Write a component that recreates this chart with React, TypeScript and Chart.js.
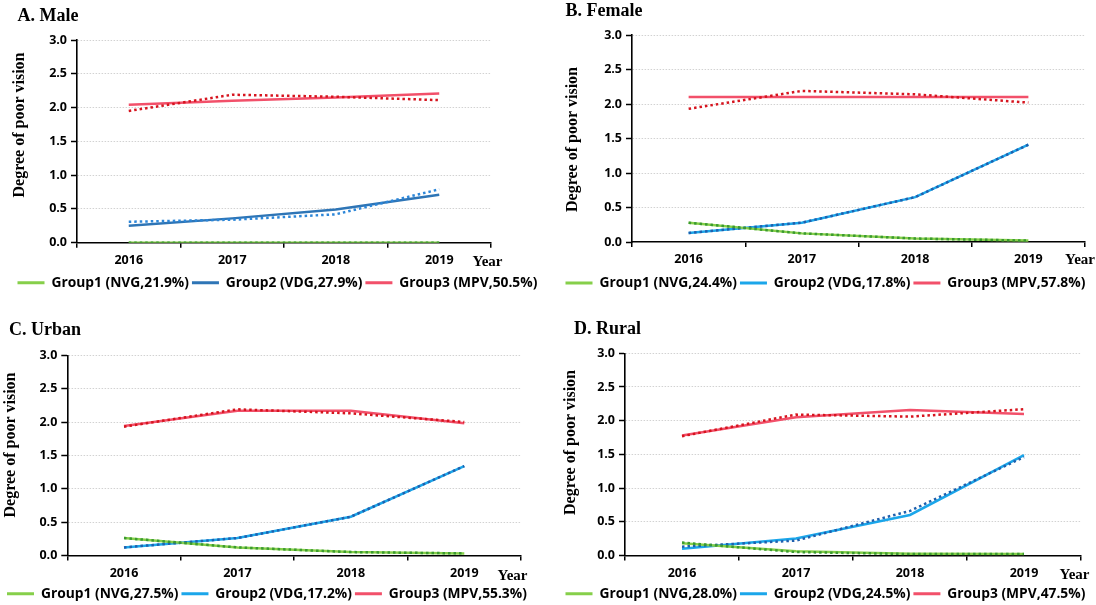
import React, { useEffect, useRef } from 'react';
import { Chart, registerables } from 'chart.js';

Chart.register(...registerables);

// ---------- data ----------
const years = ['2016', '2017', '2018', '2019'];
const yMin = 0;
const yMax = 3;
const yStep = 0.5;
const yAxisTitle = 'Degree of poor vision';
const xAxisTitle = 'Year';

const maleTitle = 'A. Male';
const maleLegend = ['Group1 (NVG,21.9%)', 'Group2 (VDG,27.9%)', 'Group3 (MPV,50.5%)'];
const maleG1Est = [0, 0, 0, 0];
const maleG1Obs = [0, 0, 0, 0];
const maleG2Est = [0.25, 0.36, 0.49, 0.71];
const maleG2Obs = [0.31, 0.34, 0.42, 0.79];
const maleG3Est = [2.04, 2.1, 2.15, 2.21];
const maleG3Obs = [1.95, 2.19, 2.16, 2.11];

const femaleTitle = 'B. Female';
const femaleLegend = ['Group1 (NVG,24.4%)', 'Group2 (VDG,17.8%)', 'Group3 (MPV,57.8%)'];
const femaleG1Est = [0.28, 0.125, 0.05, 0.02];
const femaleG1Obs = [0.28, 0.125, 0.05, 0.02];
const femaleG2Est = [0.13, 0.28, 0.65, 1.41];
const femaleG2Obs = [0.13, 0.28, 0.65, 1.41];
const femaleG3Est = [2.1, 2.1, 2.1, 2.1];
const femaleG3Obs = [1.93, 2.19, 2.14, 2.02];

const urbanTitle = 'C. Urban';
const urbanLegend = ['Group1 (NVG,27.5%)', 'Group2 (VDG,17.2%)', 'Group3 (MPV,55.3%)'];
const urbanG1Est = [0.26, 0.12, 0.05, 0.03];
const urbanG1Obs = [0.26, 0.12, 0.05, 0.03];
const urbanG2Est = [0.12, 0.26, 0.58, 1.34];
const urbanG2Obs = [0.12, 0.26, 0.58, 1.34];
const urbanG3Est = [1.94, 2.17, 2.17, 1.98];
const urbanG3Obs = [1.93, 2.19, 2.13, 2.0];

const ruralTitle = 'D. Rural';
const ruralLegend = ['Group1 (NVG,28.0%)', 'Group2 (VDG,24.5%)', 'Group3 (MPV,47.5%)'];
const ruralG1Est = [0.18, 0.06, 0.025, 0.02];
const ruralG1Obs = [0.19, 0.05, 0.02, 0.02];
const ruralG2Est = [0.1, 0.25, 0.6, 1.49];
const ruralG2Obs = [0.13, 0.22, 0.66, 1.46];
const ruralG3Est = [1.78, 2.05, 2.16, 2.1];
const ruralG3Obs = [1.77, 2.09, 2.06, 2.17];

// ---------- styles ----------
const GREEN = '#86CF4A';
const GREEN_DOT = '#3A9A30';
const BLUE_A = '#2E75B6';
const BLUE_A_DOT = '#2C86D8';
const BLUE = '#1BA6EA';
const BLUE_DOT = '#1F60AE';
const RED = '#F2506A';
const RED_DOT = '#D6141E';

const SERIF = '"Liberation Serif", "Times New Roman", serif';
const SANS = '"Open Sans", "Noto Sans", sans-serif';

type PanelSpec = {
  title: string;
  legend: string[];
  est: number[][];
  obs: number[][];
  blue: string;
  blueDot: string;
  box: { left: number; top: number; w: number; h: number };
  lay: {
    padL: number; padT: number; padB: number; yW: number; rW: number; xH: number; tickPad: number;
    titleX: number; titleY: number; yTitleX: number; yTitleY: number; yearX: number; yearY: number;
  };
};

const panels: PanelSpec[] = [
  {
    title: maleTitle, legend: maleLegend,
    est: [maleG1Est, maleG2Est, maleG3Est], obs: [maleG1Obs, maleG2Obs, maleG3Obs],
    blue: BLUE_A, blueDot: BLUE_A_DOT,
    box: { left: 0, top: 0, w: 548, h: 300 },
    lay: { padL: 14.5, padT: 40, padB: 0.25, yW: 62.5, rW: 57, xH: 30.25, tickPad: 5.5,
      titleX: 17.5, titleY: 16, yTitleX: 20, yTitleY: 125, yearX: 487.5, yearY: 262 },
  },
  {
    title: femaleTitle, legend: femaleLegend,
    est: [femaleG1Est, femaleG2Est, femaleG3Est], obs: [femaleG1Obs, femaleG2Obs, femaleG3Obs],
    blue: BLUE, blueDot: BLUE_DOT,
    box: { left: 548, top: 0, w: 548, h: 300 },
    lay: { padL: 14.5, padT: 35, padB: 0, yW: 69.5, rW: 11, xH: 31.2, tickPad: 4.5,
      titleX: 17.5, titleY: 11.5, yTitleX: 24.5, yTitleY: 139.5, yearX: 532, yearY: 260 },
  },
  {
    title: urbanTitle, legend: urbanLegend,
    est: [urbanG1Est, urbanG2Est, urbanG3Est], obs: [urbanG1Obs, urbanG2Obs, urbanG3Obs],
    blue: BLUE, blueDot: BLUE_DOT,
    box: { left: 0, top: 300, w: 548, h: 312 },
    lay: { padL: 4, padT: 55.3, padB: 1.25, yW: 63.3, rW: 27, xH: 28.55, tickPad: 5.1,
      titleX: 9, titleY: 30, yTitleX: 10.5, yTitleY: 145, yearX: 512.5, yearY: 276 },
  },
  {
    title: ruralTitle, legend: ruralLegend,
    est: [ruralG1Est, ruralG2Est, ruralG3Est], obs: [ruralG1Obs, ruralG2Obs, ruralG3Obs],
    blue: BLUE, blueDot: BLUE_DOT,
    box: { left: 548, top: 300, w: 548, h: 312 },
    lay: { padL: 14.5, padT: 53.3, padB: 1.25, yW: 62.5, rW: 15, xH: 28.55, tickPad: 5.1,
      titleX: 26, titleY: 29.3, yTitleX: 23, yTitleY: 142.5, yearX: 526.5, yearY: 275 },
  },
];

function Panel({ spec }: { spec: PanelSpec }) {
  const ref = useRef<HTMLCanvasElement | null>(null);

  useEffect(() => {
    const canvas = ref.current;
    if (!canvas) return;
    const L = spec.lay;
    const solidColors = [GREEN, spec.blue, RED];
    const dotColors = [GREEN_DOT, spec.blueDot, RED_DOT];

    const dotted = spec.obs.map((d, i) => ({
      label: spec.legend[i] + ' observed',
      data: d,
      borderColor: dotColors[i],
      backgroundColor: dotColors[i],
      borderWidth: 2.5,
      borderDash: [2.5, 3],
      pointRadius: 0,
      tension: 0,
      fill: false,
    }));
    const solid = spec.est.map((d, i) => ({
      label: spec.legend[i],
      data: d,
      borderColor: solidColors[i],
      backgroundColor: solidColors[i],
      borderWidth: 2.5,
      pointRadius: 0,
      tension: 0,
      fill: false,
    }));

    const textPlugin = {
      id: 'panelText',
      afterDraw(chart: any) {
        const ctx = chart.ctx as CanvasRenderingContext2D;
        ctx.save();
        ctx.fillStyle = '#000';
        ctx.textBaseline = 'middle';
        ctx.textAlign = 'left';
        ctx.font = `bold 18px ${SERIF}`;
        ctx.fillText(spec.title, L.titleX, L.titleY);
        ctx.textAlign = 'center';
        ctx.font = `bold 15px ${SERIF}`;
        ctx.fillText(xAxisTitle, L.yearX, L.yearY);
        ctx.translate(L.yTitleX, L.yTitleY);
        ctx.rotate(-Math.PI / 2);
        ctx.font = `bold 16px ${SERIF}`;
        ctx.fillText(yAxisTitle, 0, 0);
        ctx.restore();
      },
    };

    const chart = new Chart(canvas, {
      type: 'line',
      data: { labels: years, datasets: [...dotted, ...solid] as any },
      options: {
        animation: false,
        responsive: false,
        devicePixelRatio: 1,
        layout: { padding: { left: L.padL, right: 0, top: L.padT, bottom: L.padB } },
        scales: {
          x: {
            type: 'category',
            offset: true,
            grid: {
              display: true,
              offset: true,
              drawOnChartArea: false,
              drawTicks: true,
              tickLength: 5,
              color: '#000',
              lineWidth: 1.5,
            },
            border: { display: true, color: '#000', width: 1.6 },
            ticks: {
              autoSkip: false,
              maxRotation: 0,
              padding: L.tickPad,
              color: '#000',
              font: { family: SANS, size: 12.5, weight: 'bold' },
            },
            afterFit: (s: any) => { s.height = L.xH; },
          },
          y: {
            type: 'linear',
            position: 'left',
            min: yMin,
            max: yMax,
            ticks: {
              stepSize: yStep,
              padding: 4,
              color: '#000',
              font: { family: SANS, size: 12.5, weight: 'bold' },
              callback: (v: any) => Number(v).toFixed(1),
            },
            grid: {
              display: true,
              drawTicks: true,
              tickLength: 6,
              tickColor: '#000',
              tickWidth: 1.5,
              lineWidth: 1,
              color: (c: any) => (c.tick && c.tick.value === 0 ? 'rgba(0,0,0,0)' : '#d2d2d2'),
            },
            border: { display: true, color: '#000', width: 1.6, dash: [1.5, 1.5] },
            afterFit: (s: any) => { s.width = L.yW; },
          },
          yRight: {
            type: 'linear',
            position: 'right',
            display: true,
            grid: { display: false },
            border: { display: false },
            ticks: { display: false },
            afterFit: (s: any) => { s.width = L.rW; },
          },
        },
        plugins: {
          title: { display: false },
          tooltip: { enabled: false },
          legend: {
            display: true,
            position: 'bottom',
            align: 'start',
            labels: {
              boxWidth: 27,
              boxHeight: 3,
              padding: 3,
              color: '#000',
              font: { family: SANS, size: 13.8, weight: 'bold' },
              generateLabels: () =>
                spec.legend.map((t, i) => ({
                  text: t,
                  fillStyle: solidColors[i],
                  strokeStyle: solidColors[i],
                  lineWidth: 0,
                  hidden: false,
                  datasetIndex: 3 + i,
                })),
            },
          },
        },
      } as any,
      plugins: [textPlugin],
    });

    return () => chart.destroy();
  }, [spec]);

  return (
    <canvas
      ref={ref}
      width={spec.box.w}
      height={spec.box.h}
      style={{ position: 'absolute', left: spec.box.left, top: spec.box.top, width: spec.box.w, height: spec.box.h }}
    />
  );
}

export default function App() {
  return (
    <div
      style={{
        position: 'absolute',
        left: 0,
        top: 0,
        width: 1096,
        height: 605,
        overflow: 'hidden',
        background: '#fff',
      }}
    >
      {panels.map((p) => (
        <Panel key={p.title} spec={p} />
      ))}
    </div>
  );
}
